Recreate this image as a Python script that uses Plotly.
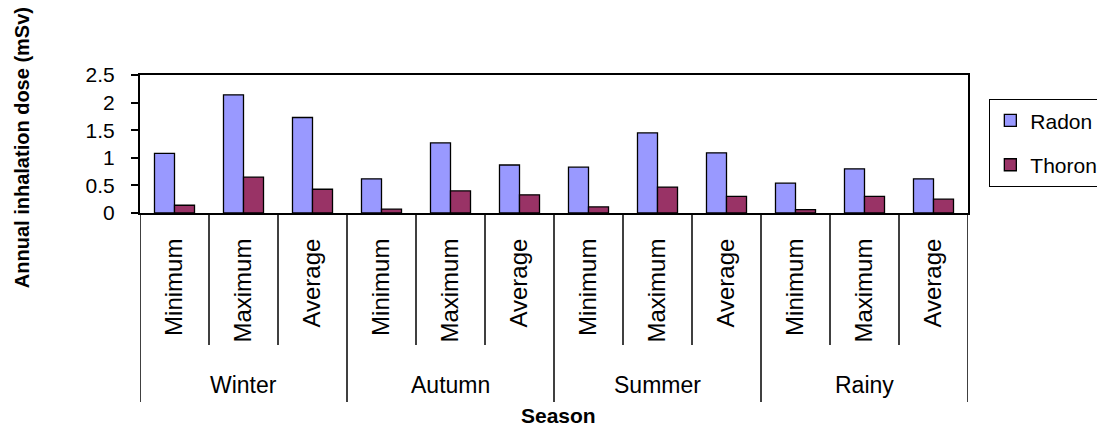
import plotly.graph_objects as go

seasons = ["Winter", "Autumn", "Summer", "Rainy"]
stats = ["Minimum", "Maximum", "Average"]
radon = [1.08, 2.14, 1.73, 0.62, 1.27, 0.87, 0.83, 1.45, 1.09, 0.54, 0.80, 0.62]
thoron = [0.14, 0.65, 0.43, 0.07, 0.40, 0.33, 0.11, 0.47, 0.30, 0.06, 0.30, 0.25]
y_ticks = [0, 0.5, 1, 1.5, 2, 2.5]
y_ticklabels = ["0", "0.5", "1", "1.5", "2", "2.5"]

keys = [f"{s}|{t}" for s in seasons for t in stats]
inner_labels = [t for _ in seasons for t in stats]

FONT = "Liberation Sans, Arial, sans-serif"

fig = go.Figure()
fig.add_trace(go.Bar(x=keys, y=radon, name="Radon", legendgroup="r",
                     marker=dict(color="#9999FF", line=dict(color="black", width=1.3))))
fig.add_trace(go.Bar(x=keys, y=thoron, name="Thoron", legendgroup="t",
                     marker=dict(color="#993366", line=dict(color="black", width=1.3))))

n = len(keys)
ng = len(stats)
shapes = []
for i in range(n + 1):
    boundary = i - 0.5
    is_group = (i % ng == 0)
    shapes.append(dict(type="line", xref="x", yref="paper",
                       x0=boundary, x1=boundary, y0=0,
                       y1=-1.37 if is_group else -0.957,
                       line=dict(color="black", width=1.5)))

annotations = []
for gi, s in enumerate(seasons):
    annotations.append(dict(text=s, xref="x", yref="paper", x=gi * ng + (ng - 1) / 2,
                            y=-1.246, showarrow=False, xanchor="center", yanchor="middle",
                            font=dict(size=23)))
annotations.append(dict(text="<b>Season</b>", xref="paper", yref="paper", x=0.506, y=-1.47,
                        showarrow=False, xanchor="center", yanchor="middle",
                        font=dict(size=21)))
annotations.append(dict(text="<b>Annual inhalation dose (mSv)</b>", xref="paper", yref="paper",
                        x=-0.1425, y=0.47, textangle=-90, showarrow=False,
                        xanchor="center", yanchor="middle", font=dict(size=20)))

fig.update_layout(
    width=1097, height=428,
    margin=dict(l=140, r=129, t=75, b=215, autoexpand=False),
    paper_bgcolor="white", plot_bgcolor="white",
    barmode="group", bargap=0.42, bargroupgap=0,
    font=dict(family=FONT, size=20, color="black"),
    showlegend=True,
    legend=dict(x=1.0254, y=0.826, xanchor="left", yanchor="top",
                bordercolor="black", borderwidth=1.3,
                font=dict(size=21), tracegroupgap=14, itemwidth=30),
    shapes=shapes, annotations=annotations,
)
fig.update_xaxes(
    type="category", categoryorder="array", categoryarray=keys,
    range=[-0.5, n - 0.5],
    tickvals=keys, ticktext=inner_labels,
    showline=True, linecolor="black", linewidth=2, mirror=True,
    ticks="", tickangle=-90, tickfont=dict(size=24),
    ticklabelstandoff=14, automargin=False,
    showgrid=False,
)
fig.update_yaxes(
    range=[0, 2.5], tickvals=y_ticks, ticktext=y_ticklabels,
    showline=True, linecolor="black", linewidth=2, mirror=True,
    ticks="outside", ticklen=7, tickcolor="black", tickwidth=1.5,
    showgrid=False, zeroline=False, tickfont=dict(size=21),
    ticklabelstandoff=12, automargin=False,
)

fig.write_html("out.html", config={"displayModeBar": False},
               post_script="document.body.style.margin='0';document.body.style.padding='0';")
